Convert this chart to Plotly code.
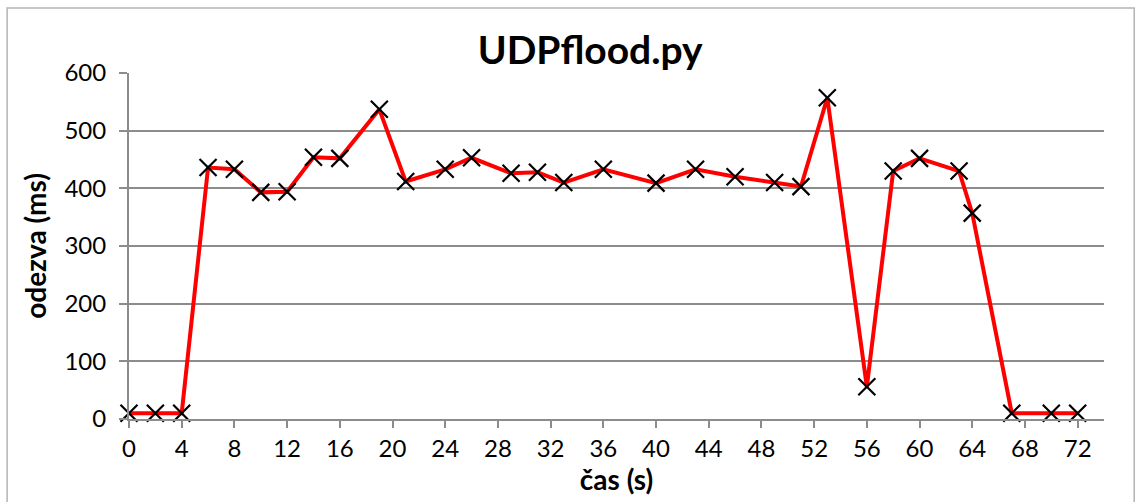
import plotly.graph_objects as go

time_s = [0, 2, 4, 6, 8, 10, 12, 14, 16, 19, 21, 24, 26, 29, 31, 33, 36, 40, 43, 46,
          49, 51, 53, 56, 58, 60, 63, 64, 67, 70, 72]
response_ms = [10, 10, 10, 436, 433, 393, 394, 454, 452, 537, 412, 433, 453, 426, 428,
               410, 433, 409, 433, 420, 410, 403, 557, 56, 430, 452, 430, 357, 10, 10, 10]

title = "UDPflood.py"
x_title = "čas (s)"
y_title = "odezva (ms)"

font_family = "Lato, 'Open Sans', sans-serif"
gray = "#8c8c8c"

fig = go.Figure()
fig.add_trace(go.Scatter(
    x=time_s, y=response_ms, mode="lines+markers",
    line=dict(color="#ff0000", width=4),
    marker=dict(symbol="x-thin", size=17, color="black",
                line=dict(color="black", width=2.2)),
    showlegend=False, cliponaxis=False,
))

fig.update_layout(
    width=1135, height=502,
    margin=dict(l=129, r=31, t=73, b=83),
    paper_bgcolor="white", plot_bgcolor="white",
    font=dict(family=font_family, size=24, color="black"),
    title=dict(text="<b>" + title + "</b>", x=0.52, xanchor="center",
               y=0.9, yanchor="middle", font=dict(size=39, family=font_family)),
    xaxis=dict(range=[0, 74], tickmode="array",
               tickvals=list(range(0, 73, 4)),
               ticktext=[str(v) for v in range(0, 73, 4)],
               showgrid=False, zeroline=False,
               showline=True, linecolor=gray, linewidth=2,
               ticks="outside", ticklen=7, tickcolor=gray, tickwidth=2,
               tickfont=dict(size=24),
               title=dict(text="<b>" + x_title + "</b>", standoff=2,
                          font=dict(size=28))),
    yaxis=dict(range=[0, 600], dtick=100, tick0=0,
               showgrid=True, gridcolor=gray, gridwidth=2,
               zeroline=False,
               showline=True, linecolor=gray, linewidth=2,
               ticks="outside", ticklen=8, tickcolor=gray, tickwidth=2,
               ticklabelstandoff=8,
               tickfont=dict(size=24),
               title=dict(text="<b>" + y_title + "</b>", standoff=10,
                          font=dict(size=28))),
    shapes=[dict(type="rect", xref="paper", yref="paper",
                 x0=-0.125, x1=1.031, y0=-0.3, y1=1.188,
                 line=dict(color="#b4b4b4", width=1.5), fillcolor="rgba(0,0,0,0)")],
)

fig.write_html("out.html")
